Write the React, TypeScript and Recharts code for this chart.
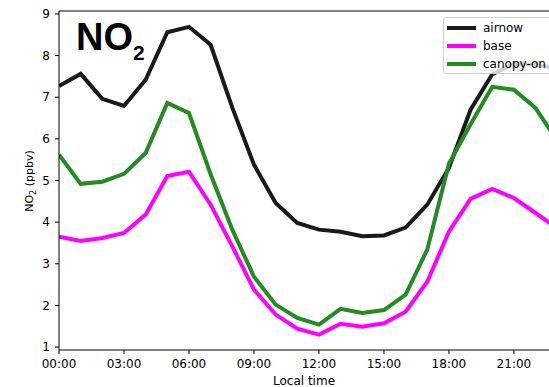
import React from 'react';
import { LineChart, Line, XAxis, YAxis, ReferenceLine } from 'recharts';

// hourly local time, 0..23
const hours = [0, 1, 2, 3, 4, 5, 6, 7, 8, 9, 10, 11, 12, 13, 14, 15, 16, 17, 18, 19, 20, 21, 22, 23];
const airnow = [7.27, 7.56, 6.96, 6.79, 7.42, 8.56, 8.69, 8.26, 6.75, 5.38, 4.46, 3.98, 3.82, 3.77, 3.66, 3.68, 3.87, 4.42, 5.3, 6.7, 7.55, 7.8, 7.78, 7.7];
const base = [3.65, 3.55, 3.62, 3.74, 4.18, 5.11, 5.21, 4.42, 3.42, 2.38, 1.78, 1.44, 1.3, 1.56, 1.49, 1.57, 1.85, 2.57, 3.77, 4.56, 4.8, 4.58, 4.22, 3.85];
const canopyOn = [5.62, 4.92, 4.97, 5.16, 5.66, 6.86, 6.62, 5.15, 3.82, 2.69, 2.02, 1.7, 1.54, 1.92, 1.82, 1.89, 2.26, 3.34, 5.4, 6.35, 7.25, 7.18, 6.74, 5.95];

const xTicks = [0, 3, 6, 9, 12, 15, 18, 21];
const yTicks = [1, 2, 3, 4, 5, 6, 7, 8, 9];

const series = [
  { key: 'airnow', name: 'airnow', color: '#1a1a1a' },
  { key: 'base', name: 'base', color: '#ff00ff' },
  { key: 'canopy', name: 'canopy-on', color: '#228b22' },
];

const data = hours.map((h, i) => ({ hour: h, airnow: airnow[i], base: base[i], canopy: canopyOn[i] }));

const FONT = '"DejaVu Sans", sans-serif';
const fmtHour = (h: number) => `${String(h).padStart(2, '0')}:00`;

const YLabel = () => (
  <text x={33} y={181} transform="rotate(-90 33 181)" textAnchor="middle" fontFamily={FONT} fontSize={11} fill="#000">
    NO<tspan fontSize={8} dy={3}>2</tspan>
    <tspan dy={-3}>{'  (ppbv)'}</tspan>
  </text>
);

const XLabel = () => (
  <text x={304} y={385} textAnchor="middle" fontFamily={FONT} fontSize={12} fill="#000">
    Local time
  </text>
);

export default function App() {
  return (
    <div style={{ position: 'absolute', left: 0, top: 0, width: 549, height: 387, background: '#fff', overflow: 'hidden' }}>
      <LineChart width={549} height={387} data={data} margin={{ top: 11, right: 0, bottom: 0, left: 0 }}>
        <XAxis
          dataKey="hour"
          type="number"
          domain={[0, 22.62]}
          allowDataOverflow
          ticks={xTicks}
          tickFormatter={fmtHour}
          height={37}
          tickSize={4}
          tickMargin={5}
          tick={{ fontSize: 12, fill: '#000', fontFamily: FONT }}
          stroke="#000"
          label={<XLabel />}
        />
        <YAxis
          type="number"
          domain={[0.93, 9.07]}
          allowDataOverflow
          ticks={yTicks}
          width={59}
          tickSize={4}
          tickMargin={5}
          tick={{ fontSize: 12, fill: '#000', fontFamily: FONT }}
          stroke="#000"
          label={<YLabel />}
        />
        <ReferenceLine y={9.07} stroke="#000" strokeWidth={1} ifOverflow="visible" />
        {series.map((s) => (
          <Line
            key={s.key}
            dataKey={s.key}
            name={s.name}
            stroke={s.color}
            strokeWidth={4}
            dot={false}
            activeDot={false}
            type="linear"
            isAnimationActive={false}
          />
        ))}
      </LineChart>

      {/* legend, matplotlib style box in upper right */}
      <div
        style={{
          position: 'absolute',
          left: 443,
          top: 17,
          width: 110,
          height: 57,
          background: 'rgba(255,255,255,0.8)',
          border: '1px solid #d0d0d0',
          borderRadius: 3,
          boxSizing: 'border-box',
          padding: '1px 0 0 3px',
          fontFamily: FONT,
          fontSize: 12,
          color: '#000',
          whiteSpace: 'nowrap',
        }}
      >
        {series.map((s) => (
          <div key={s.key} style={{ display: 'flex', alignItems: 'center', height: 18 }}>
            <div style={{ width: 29, height: 4, background: s.color, marginRight: 7 }} />
            <span>{s.name}</span>
          </div>
        ))}
      </div>

      <div
        style={{
          position: 'absolute',
          left: 76,
          top: 15,
          fontFamily: '"Liberation Sans", Arial, sans-serif',
          fontWeight: 'bold',
          fontSize: 38,
          lineHeight: '44px',
          color: '#000',
        }}
      >
        NO<span style={{ fontSize: 21, position: 'relative', top: 10 }}>2</span>
      </div>
    </div>
  );
}
